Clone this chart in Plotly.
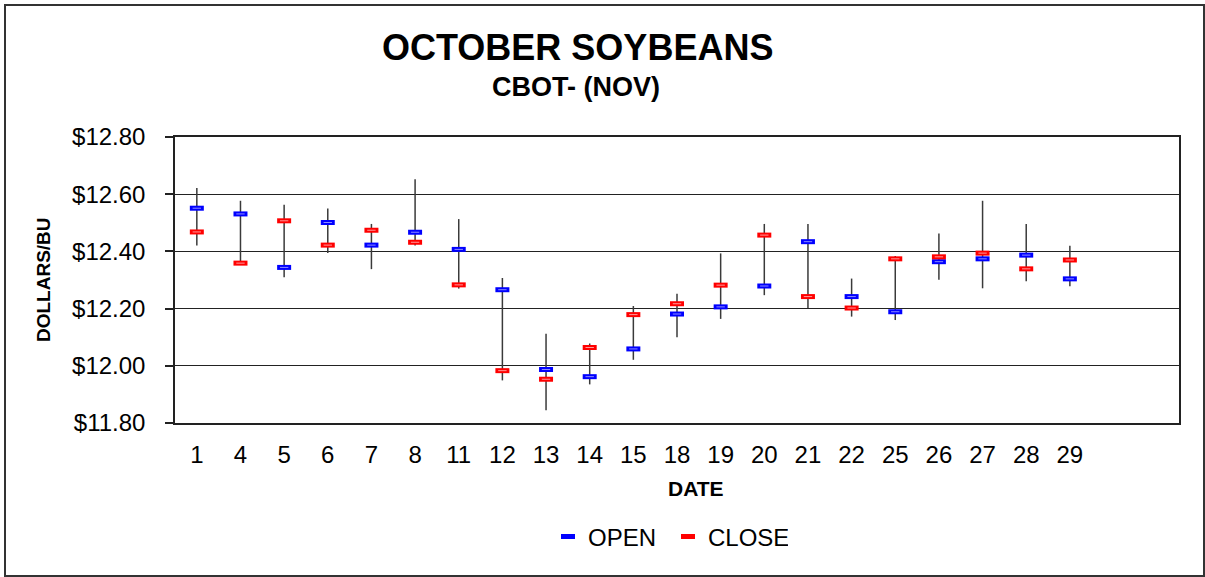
import plotly.graph_objects as go

dates = ["1", "4", "5", "6", "7", "8", "11", "12", "13", "14", "15",
         "18", "19", "20", "21", "22", "25", "26", "27", "28", "29"]
open_px = [12.551, 12.531, 12.344, 12.501, 12.422, 12.467, 12.407, 12.266, 11.987, 11.962, 12.059,
           12.181, 12.206, 12.279, 12.434, 12.242, 12.189, 12.364, 12.374, 12.387, 12.304]
close_px = [12.468, 12.359, 12.507, 12.422, 12.474, 12.432, 12.283, 11.983, 11.953, 12.064, 12.179,
            12.217, 12.282, 12.457, 12.242, 12.202, 12.374, 12.381, 12.394, 12.339, 12.370]
high_px = [12.622, 12.577, 12.563, 12.550, 12.496, 12.652, 12.513, 12.307, 12.112, 12.078, 12.209,
           12.252, 12.393, 12.496, 12.496, 12.305, 12.384, 12.463, 12.577, 12.496, 12.420]
low_px = [12.421, 12.355, 12.310, 12.394, 12.338, 12.421, 12.270, 11.949, 11.845, 11.935, 12.021,
          12.100, 12.164, 12.247, 12.202, 12.172, 12.160, 12.301, 12.271, 12.296, 12.278]
n_slots = 23  # 21 dates + 2 empty slots on the category axis
y_ticks = [11.80, 12.00, 12.20, 12.40, 12.60, 12.80]

FONT = "Liberation Sans, Arial, sans-serif"
xs = list(range(len(dates)))

# high-low lines
hl_x, hl_y = [], []
for i, lo, hi in zip(xs, low_px, high_px):
    hl_x += [i, i, None]
    hl_y += [lo, hi, None]

fig = go.Figure()
fig.add_trace(go.Scatter(x=hl_x, y=hl_y, mode="lines", line=dict(color="#3a3a3a", width=1.5),
                         showlegend=False, hoverinfo="skip"))
for name, vals, col, light in [("OPEN", open_px, "#0000FF", "#8c8cff"),
                                ("CLOSE", close_px, "#FF0000", "#ff9a9a")]:
    fig.add_trace(go.Scatter(x=xs, y=vals, mode="markers", name=name,
                             marker=dict(symbol="line-ew", size=10,
                                         line=dict(color=col, width=5))))
    fig.add_trace(go.Scatter(x=xs, y=vals, mode="markers", showlegend=False, hoverinfo="skip",
                             marker=dict(symbol="line-ew", size=6,
                                         line=dict(color=light, width=1))))

L, R, T, B = 175, 26, 137, 154
W, H = 1205, 577
pw, ph = W - L - R, H - T - B

fig.update_layout(
    width=W, height=H,
    margin=dict(l=L, r=R, t=T, b=B, pad=0),
    paper_bgcolor="white", plot_bgcolor="white",
    font=dict(family=FONT, color="black"),
    showlegend=True,
    legend=dict(orientation="h", x=(548 - L) / pw, xanchor="left",
                y=(H - B - 537) / ph, yanchor="middle",
                entrywidth=75, entrywidthmode="pixels",
                font=dict(size=24, family=FONT), bgcolor="rgba(0,0,0,0)",
                itemsizing="trace"),
    xaxis=dict(range=[-0.5, n_slots - 0.5], tickmode="array", tickvals=xs, ticktext=dates,
               ticks="", showgrid=False, zeroline=False, showline=True, mirror=True,
               linecolor="#222", linewidth=1.5, tickfont=dict(size=24),
               ticklabelstandoff=9),
    xaxis2=dict(overlaying="x", anchor="y", side="bottom", range=[-0.5, n_slots - 0.5],
                tickmode="array", tickvals=[k - 0.5 for k in range(n_slots + 1)],
                ticks="outside", ticklen=8, tickwidth=1.5, tickcolor="#222",
                showticklabels=False, showgrid=False, zeroline=False, showline=False),
    yaxis=dict(range=[11.80, 12.80], tickmode="array", tickvals=y_ticks,
               tickformat="$.2f", ticks="outside", ticklen=8, tickwidth=1.5, tickcolor="#222",
               showgrid=True, gridcolor="#222", gridwidth=1, zeroline=False,
               showline=True, mirror=True, linecolor="#222", linewidth=1.5,
               tickfont=dict(size=24), ticklabelstandoff=15),
    shapes=[dict(type="rect", xref="paper", yref="paper",
                 x0=(5 - L) / pw, x1=(1204 - L) / pw,
                 y0=(H - B - 576) / ph, y1=(H - B - 5) / ph,
                 line=dict(color="#333", width=2), fillcolor="rgba(0,0,0,0)", layer="below")],
    annotations=[
        dict(text="<b>OCTOBER SOYBEANS</b>", xref="paper", yref="paper",
             x=(577 - L) / pw, y=(H - B - 48) / ph, xanchor="center", yanchor="middle",
             showarrow=False, font=dict(size=36, family=FONT)),
        dict(text="<b>CBOT- (NOV)</b>", xref="paper", yref="paper",
             x=(576 - L) / pw, y=(H - B - 87) / ph, xanchor="center", yanchor="middle",
             showarrow=False, font=dict(size=27, family=FONT)),
        dict(text="<b>DOLLARS/BU</b>", xref="paper", yref="paper",
             x=(43 - L) / pw, y=(H - B - 280) / ph, xanchor="center", yanchor="middle",
             textangle=-90, showarrow=False, font=dict(size=19, family=FONT)),
        dict(text="<b>DATE</b>", xref="paper", yref="paper",
             x=(696 - L) / pw, y=(H - B - 488) / ph, xanchor="center", yanchor="middle",
             showarrow=False, font=dict(size=21, family=FONT)),
    ],
)

fig.write_html("out.html", config={"displayModeBar": False},
               post_script="document.body.style.margin='0';document.body.style.overflow='hidden';")
